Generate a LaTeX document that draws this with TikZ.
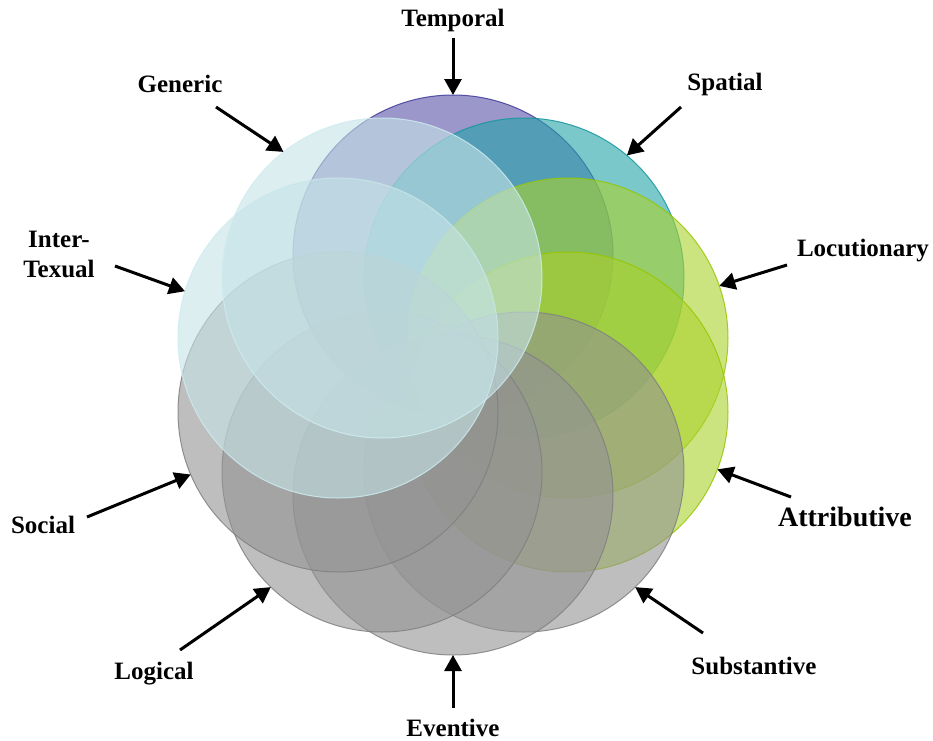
\documentclass[tikz,border=0pt]{standalone}
\usepackage{fontspec}
\setmainfont{Liberation Serif}
\usetikzlibrary{arrows.meta}

\definecolor{tempfill}{RGB}{88,82,168}
\definecolor{templine}{RGB}{62,58,152}
\definecolor{spatfill}{RGB}{35,163,168}
\definecolor{spatline}{RGB}{20,150,156}
\definecolor{greenfill}{RGB}{170,210,43}
\definecolor{greenline}{RGB}{150,198,0}
\definecolor{grayfill}{RGB}{147,147,147}
\definecolor{grayline}{RGB}{128,128,128}
\definecolor{palefill}{RGB}{197,227,230}
\definecolor{paleline}{RGB}{205,236,240}

\begin{document}
\begin{tikzpicture}[x=0.5pt,y=-0.5pt,
    circ/.style={circle,minimum size=160pt,inner sep=0pt,outer sep=0pt,line width=0.5pt,fill opacity=0.6,draw opacity=0.85},
    lbl/.style={font=\bfseries\fontsize{12.5}{15}\selectfont},
    arr/.style={-{Triangle[length=8pt,width=8.5pt]},line width=1.5pt}]
    \useasboundingbox (0,0) rectangle (933,740);

    % circles
    \node[circ,fill=tempfill,draw=templine] (temporal) at (453,255) {};
    \node[circ,fill=spatfill,draw=spatline] (spatial) at (524,278) {};
    \node[circ,fill=greenfill,draw=greenline] (locutionary) at (568,338) {};
    \node[circ,fill=greenfill,draw=greenline] (attributive) at (568,412) {};
    \node[circ,fill=grayfill,draw=grayline] (substantive) at (524,472) {};
    \node[circ,fill=grayfill,draw=grayline] (eventive) at (453,495) {};
    \node[circ,fill=grayfill,draw=grayline] (logical) at (382,472) {};
    \node[circ,fill=grayfill,draw=grayline] (social) at (338,412) {};
    \node[circ,fill=palefill,draw=paleline] (intertexual) at (338,338) {};
    \node[circ,fill=palefill,draw=paleline] (generic) at (382,278) {};

    % labels
    \node[lbl] (lTemporal) at (453,20) {Temporal};
    \node[lbl] (lSpatial) at (725,84) {Spatial};
    \node[lbl] (lLocutionary) at (863,251) {Locutionary};
    \node[lbl,font=\bfseries\fontsize{14}{17}\selectfont] (lAttributive) at (845,517) {Attributive};
    \node[lbl] (lSubstantive) at (754,666) {Substantive};
    \node[lbl] (lEventive) at (453,728) {Eventive};
    \node[lbl] (lLogical) at (154,674) {Logical};
    \node[lbl] (lSocial) at (43,525) {Social};
    \node[lbl,align=center] (lIntertexual) at (59,254) {Inter-\\Texual};
    \node[lbl] (lGeneric) at (180,84) {Generic};

    % arrows
    \coordinate (tTemporal) at (453,38);
    \coordinate (tSpatial) at (681,107);
    \coordinate (tLocutionary) at (787,265);
    \coordinate (tAttributive) at (791,497);
    \coordinate (tSubstantive) at (703,633);
    \coordinate (tEventive) at (453,708);
    \coordinate (tLogical) at (180,650);
    \coordinate (tSocial) at (87,517);
    \coordinate (tIntertexual) at (115,266);
    \coordinate (tGeneric) at (216,107);
    \draw[arr] (tTemporal) -- (temporal.90);
    \draw[arr] (tSpatial) -- (spatial.50);
    \draw[arr] (tLocutionary) -- (locutionary.19);
    \draw[arr] (tAttributive) -- (attributive.-21);
    \draw[arr] (tSubstantive) -- (substantive.-46);
    \draw[arr] (tEventive) -- (eventive.-90);
    \draw[arr] (tLogical) -- (logical.-134);
    \draw[arr] (tSocial) -- (social.-157);
    \draw[arr] (tIntertexual) -- (intertexual.163);
    \draw[arr] (tGeneric) -- (generic.128);
\end{tikzpicture}
\end{document}
